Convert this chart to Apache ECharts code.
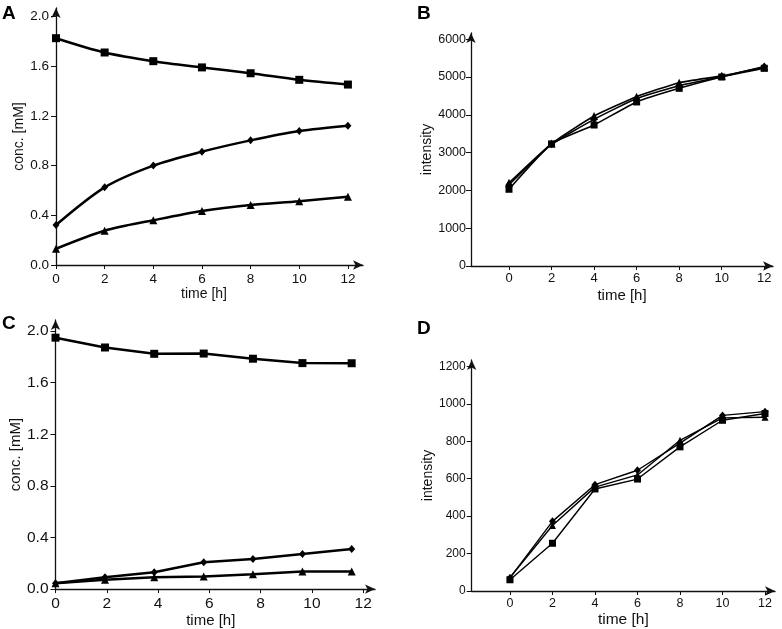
<!DOCTYPE html>
<html>
<head>
<meta charset="utf-8">
<script src="https://cdn.jsdelivr.net/npm/echarts@6/dist/echarts.min.js"></script>
<style>
html,body{margin:0;padding:0;background:#fff;}
#chart{width:782px;height:629px;}
</style>
</head>
<body>
<div id="chart"></div>
<script>
// ---- data ----
var timeAB = [0, 2, 4, 6, 8, 10, 12];
var timeC = [0, 1.93, 3.85, 5.78, 7.7, 9.63, 11.55];
var timeD = [0, 2, 4, 6, 8, 10, 12];

var aSquare = [1.825, 1.71, 1.64, 1.59, 1.543, 1.49, 1.452];
var aDiamond = [0.322, 0.625, 0.80, 0.912, 1.003, 1.078, 1.121];
var aTriangle = [0.131, 0.276, 0.36, 0.435, 0.483, 0.513, 0.55];

var bSquare = [2030, 3230, 3730, 4340, 4700, 5000, 5230];
var bDiamond = [2150, 3220, 3880, 4430, 4770, 5010, 5280];
var bTriangle = [2200, 3240, 3970, 4480, 4850, 5030, 5260];

var cSquare = [1.948, 1.872, 1.823, 1.825, 1.785, 1.751, 1.750];
var cDiamond = [0.046, 0.092, 0.131, 0.208, 0.233, 0.272, 0.31];
var cTriangle = [0.046, 0.072, 0.092, 0.097, 0.115, 0.136, 0.136];

var dSquare = [60, 255, 545, 598, 770, 912, 948];
var dDiamond = [70, 372, 568, 645, 790, 938, 958];
var dTriangle = [72, 350, 555, 620, 805, 925, 928];

var xTicks = [0, 2, 4, 6, 8, 10, 12];
var concTicks = [0, 0.4, 0.8, 1.2, 1.6, 2.0];
var bTicks = [0, 1000, 2000, 3000, 4000, 5000, 6000];
var dTicks = [0, 200, 400, 600, 800, 1000, 1200];

var xName = 'time [h]';
var concName = 'conc. [mM]';
var intName = 'intensity';
var panelLetters = ['A', 'B', 'C', 'D'];

// ---- helpers ----
var FONT = '"Liberation Sans", Arial, sans-serif';
function pairs(xs, ys) { return xs.map(function (x, i) { return [x, ys[i]]; }); }

function axisLineCfg() {
  return {
    show: true, onZero: false,
    symbol: ['none', 'arrow'], symbolSize: [7, 10],
    lineStyle: { color: '#111', width: 1.3 }
  };
}

function makeX(grid, min, max, fs, margin, nameGap, nameFs, shift) {
  return {
    type: 'value', gridIndex: grid, min: min, max: max,
    axisLine: axisLineCfg(),
    axisTick: { show: true, length: 4, customValues: xTicks, lineStyle: { color: '#111', width: 1 } },
    axisLabel: { customValues: xTicks, margin: margin, color: '#111', fontSize: fs, fontFamily: FONT },
    splitLine: { show: false },
    name: xName, nameLocation: 'middle', nameGap: nameGap,
    nameTextStyle: { color: '#111', fontSize: nameFs, fontFamily: FONT, padding: [0, shift, 0, 0] }
  };
}

function makeY(grid, max, ticks, fs, margin, name, nameGap, nameFs, dec) {
  return {
    type: 'value', gridIndex: grid, min: 0, max: max,
    axisLine: axisLineCfg(),
    axisTick: { show: true, length: 5, customValues: ticks, lineStyle: { color: '#111', width: 1 } },
    axisLabel: {
      customValues: ticks, margin: margin, color: '#111', fontSize: fs, fontFamily: FONT,
      formatter: function (v) { return dec ? v.toFixed(1) : String(Math.round(v)); }
    },
    splitLine: { show: false },
    name: name, nameLocation: 'middle', nameGap: nameGap,
    nameTextStyle: { color: '#111', fontSize: nameFs, fontFamily: FONT }
  };
}

function line(idx, xs, ys, symbol, size, width, smooth) {
  return {
    type: 'line', xAxisIndex: idx, yAxisIndex: idx,
    data: pairs(xs, ys), symbol: symbol, symbolSize: size, smooth: smooth,
    showSymbol: true, animation: false,
    lineStyle: { color: '#000', width: width },
    itemStyle: { color: '#000', borderWidth: 0 }
  };
}

var option = {
  animation: false,
  backgroundColor: '#fff',
  grid: [
    { left: 56, top: 8, width: 307, height: 257 },
    { left: 471, top: 33, width: 302, height: 233 },
    { left: 55.5, top: 320, width: 319.5, height: 271 },
    { left: 471.7, top: 360, width: 303.3, height: 232.7 }
  ],
  xAxis: [
    makeX(0, 0, 12.62, 13.5, 7, 21, 14, 11),
    makeX(1, -1.786, 12.41, 13, 6, 22, 15, 0),
    makeX(2, 0, 12.46, 15.5, 7, 23, 15, 9),
    makeX(3, -1.80, 12.47, 12.5, 6, 21, 15.5, 0)
  ],
  yAxis: [
    makeY(0, 2.068, concTicks, 13.5, 7, concName, 29, 14, true),
    makeY(1, 6164, bTicks, 12.5, 5, intName, 36, 14, false),
    makeY(2, 2.085, concTicks, 15.5, 7, concName, 30, 15, true),
    makeY(3, 1234, dTicks, 12, 6, intName, 31, 14, false)
  ],
  graphic: [
    { type: 'text', left: 2, top: 4, style: { text: panelLetters[0], font: 'bold 19px ' + FONT, fill: '#000' } },
    { type: 'text', left: 417, top: 4, style: { text: panelLetters[1], font: 'bold 19px ' + FONT, fill: '#000' } },
    { type: 'text', left: 2, top: 314, style: { text: panelLetters[2], font: 'bold 19px ' + FONT, fill: '#000' } },
    { type: 'text', left: 417, top: 319, style: { text: panelLetters[3], font: 'bold 19px ' + FONT, fill: '#000' } }
  ],
  series: [
    line(0, timeAB, aSquare, 'rect', 8, 2.5, 0.3),
    line(0, timeAB, aDiamond, 'diamond', [7, 8], 2.5, 0.3),
    line(0, timeAB, aTriangle, 'triangle', 8, 2.5, 0.3),
    line(1, timeAB, bSquare, 'rect', 7, 1.6, 0.15),
    line(1, timeAB, bDiamond, 'diamond', [7, 8], 1.6, 0.15),
    line(1, timeAB, bTriangle, 'triangle', 8, 1.6, 0.15),
    line(2, timeC, cSquare, 'rect', 8, 2.5, false),
    line(2, timeC, cDiamond, 'diamond', [7, 8], 2.5, false),
    line(2, timeC, cTriangle, 'triangle', 8, 2.5, false),
    line(3, timeD, dSquare, 'rect', 7, 1.4, false),
    line(3, timeD, dDiamond, 'diamond', [7, 8], 1.4, false),
    line(3, timeD, dTriangle, 'triangle', 7, 1.4, false)
  ]
};

var chart = echarts.init(document.getElementById('chart'), null, { renderer: 'canvas' });
chart.setOption(option);
</script>
</body>
</html>
